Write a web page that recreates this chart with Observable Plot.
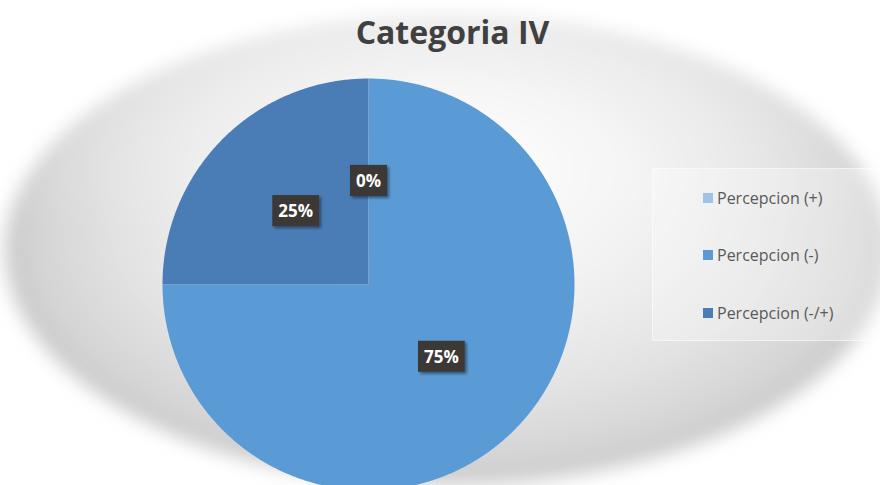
<!DOCTYPE html>
<html><head><meta charset="utf-8">
<script src="https://cdn.jsdelivr.net/npm/d3@7"></script>
<script src="https://cdn.jsdelivr.net/npm/@observablehq/plot@0.6"></script>
<style>
body{margin:0;background:#fff;}
#chart{position:relative;width:880px;height:485px;overflow:hidden;}
#chart svg{position:absolute;left:0;top:0;}
.legend{position:absolute;left:652px;top:168px;width:240px;height:173px;background:rgba(255,255,255,0.3);border:1px solid rgba(255,255,255,0.5);box-sizing:border-box;font-family:"Open Sans",sans-serif;font-size:16px;color:#595959;}
.item{position:absolute;left:50px;height:22px;display:flex;align-items:center;white-space:nowrap;}
.sw{width:10px;height:10px;margin-right:4px;flex:none;}
</style></head><body><div id="chart"></div>
<script>
const title = "Categoria IV";
const categories = ["Percepcion (+)", "Percepcion (-)", "Percepcion (-/+)"];
const values = [0, 75, 25];
const labels = ["0%", "75%", "25%"];
const colors = ["#9dc3e6", "#5b9bd5", "#4a7db5"];

const W = 880, H = 485, R = 206, CX = 368, CY = 284;

// build slice polygons (unit circle, clockwise from 12 o'clock)
const total = d3.sum(values);
const slicePts = [];
const labelPts = [];
let acc = 0;
values.forEach((v, i) => {
  const a0 = acc / total * 2 * Math.PI;
  acc += v;
  const a1 = acc / total * 2 * Math.PI;
  const mid = (a0 + a1) / 2;
  labelPts.push({cat: categories[i], text: labels[i], x: 0.5 * Math.sin(mid), y: 0.5 * Math.cos(mid)});
  if (v <= 0) return;
  slicePts.push({cat: categories[i], x: 0, y: 0});
  const n = Math.max(2, Math.ceil((a1 - a0) / (Math.PI / 360)));
  for (let k = 0; k <= n; k++) {
    const t = a0 + (a1 - a0) * k / n;
    slicePts.push({cat: categories[i], x: Math.sin(t), y: Math.cos(t)});
  }
  slicePts.push({cat: categories[i], x: 0, y: 0});
});

const plot = Plot.plot({
  width: W, height: H, margin: 0,
  style: {background: "white"},
  x: {domain: [-CX / R, (W - CX) / R], axis: null},
  y: {domain: [-(H - CY) / R, CY / R], axis: null},
  color: {domain: categories, range: colors},
  marks: [
    Plot.line(slicePts, {x: "x", y: "y", z: "cat", fill: "cat", stroke: "none"}),
    Plot.text(labelPts, {x: "x", y: "y", text: "text", fill: "white", fontWeight: "bold", fontSize: 17, fontFamily: "Open Sans"}),
    Plot.text([title], {frameAnchor: "top", dx: 12, dy: 21, text: d => d, fontSize: 32, fontWeight: "bold", fill: "#404040", fontFamily: "Open Sans"})
  ]
});

const chart = document.getElementById("chart");
chart.appendChild(plot);

// background soft ellipse
const svg = d3.select(plot);
const defs = svg.insert("defs", ":first-child");
const rg = defs.append("radialGradient").attr("id", "bgGrad").attr("cx", 0.5).attr("cy", 0.5).attr("r", 0.5).attr("fx", 0.5).attr("fy", 0.3);
[[0, "#ffffff"], [0.45, "#f2f2f2"], [0.75, "#e2e2e2"], [0.93, "#d4d4d4"], [1, "#c8c8c8"]].forEach(([o, c]) => rg.append("stop").attr("offset", o).attr("stop-color", c));
const lg = defs.append("linearGradient").attr("id", "topFade").attr("x1", 0).attr("y1", 0).attr("x2", 0).attr("y2", 1);
lg.append("stop").attr("offset", 0).attr("stop-color", "#fff").attr("stop-opacity", 0.6);
lg.append("stop").attr("offset", 0.45).attr("stop-color", "#fff").attr("stop-opacity", 0);
const f = defs.append("filter").attr("id", "soft").attr("x", "-10%").attr("y", "-10%").attr("width", "120%").attr("height", "120%");
f.append("feGaussianBlur").attr("stdDeviation", 9);
const sh = defs.append("filter").attr("id", "shadow").attr("x", "-30%").attr("y", "-30%").attr("width", "160%").attr("height", "160%");
sh.append("feDropShadow").attr("dx", 2).attr("dy", 2).attr("stdDeviation", 1.5).attr("flood-color", "#000").attr("flood-opacity", 0.45);

const bg = document.createElementNS("http://www.w3.org/2000/svg", "g");
plot.insertBefore(bg, defs.node().nextSibling);
const bgSel = d3.select(bg).attr("filter", "url(#soft)");
bgSel.append("ellipse").attr("cx", 447).attr("cy", 250).attr("rx", 442).attr("ry", 235).attr("fill", "url(#bgGrad)");
bgSel.append("ellipse").attr("cx", 447).attr("cy", 250).attr("rx", 442).attr("ry", 235).attr("fill", "url(#topFade)");

// label boxes behind data labels (same transform as the text)
svg.selectAll("text").filter(function() { return labels.includes(this.textContent); }).each(function() {
  const b = this.getBBox();
  const padX = 6, w = b.width + 2 * padX, h = 31;
  const cy = b.y + b.height / 2;
  const r = d3.create("svg:rect")
    .attr("x", b.x + b.width / 2 - w / 2).attr("y", cy - h / 2)
    .attr("width", w).attr("height", h)
    .attr("fill", "#3b3835").attr("filter", "url(#shadow)");
  const tr = this.getAttribute("transform");
  if (tr) r.attr("transform", tr);
  this.parentNode.insertBefore(r.node(), this);
});

// legend
const legend = d3.select(chart).append("div").attr("class", "legend");
const rowTops = [18, 75, 133];
categories.forEach((c, i) => {
  const it = legend.append("div").attr("class", "item").style("top", rowTops[i] + "px");
  it.append("div").attr("class", "sw").style("background", colors[i]);
  it.append("span").text(c);
});
</script>
</body></html>
